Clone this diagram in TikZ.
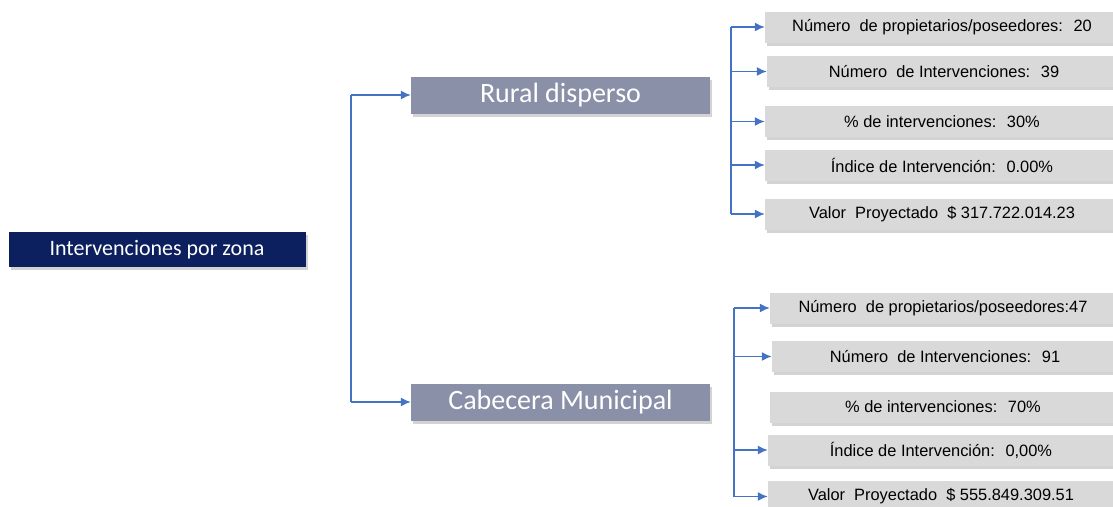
\documentclass[tikz,border=0pt]{standalone}
\usepackage{fontspec}
\setmainfont{Liberation Sans}
\newfontfamily\carlito{Carlito}
\usepackage{xcolor}
\usepackage{tikz}
\usetikzlibrary{shadows,arrows.meta}
\definecolor{navy}{HTML}{0C1F5E}
\definecolor{slate}{HTML}{8990A8}
\definecolor{leafgray}{HTML}{D9D9D9}
\definecolor{linkblue}{HTML}{4472C4}
\tikzset{
  boxShadow/.style={drop shadow={shadow xshift=2pt, shadow yshift=-3pt, opacity=0.35}},
  rootbox/.style={fill=navy, text=white, font=\carlito\fontsize{22}{24}\selectfont, minimum width=297pt, minimum height=35pt, boxShadow},
  zonebox/.style={fill=slate, text=white, font=\carlito\fontsize{28}{30}\selectfont, minimum width=299pt, minimum height=37pt, boxShadow},
  leafbox/.style={fill=leafgray, font=\fontsize{16.4}{18}\selectfont, minimum height=31pt, boxShadow},
  link/.style={draw=linkblue, line width=1.5pt},
  linkArrow/.style={link, -{Latex[length=10pt,width=9pt]}}
}

\begin{document}
\begin{tikzpicture}[x=1pt, y=-1pt]
\useasboundingbox (0,0) rectangle (1113,506);
\clip (0,0) rectangle (1113,506);

% root and zones
\node[rootbox] (root) at (157,249.5) {Intervenciones por zona};
\node[zonebox] (rd) at (560.5,95) {Rural disperso};
\node[zonebox] (cm) at (560.5,402) {Cabecera Municipal};
\coordinate (jZone) at (351,0);
\draw[link] (rd.west -| jZone) -- (cm.west -| jZone);
\draw[linkArrow] (rd.west -| jZone) -- (rd.west);
\draw[linkArrow] (cm.west -| jZone) -- (cm.west);

% rural disperso
\node[leafbox, minimum width=354pt] (rd1) at (942,27) {Número~ de propietarios/poseedores:~ 20};
\node[leafbox, minimum width=354pt] (rd2) at (944,71.5) {Número~ de Intervenciones:~ 39};
\node[leafbox, minimum width=354pt] (rd3) at (942,121.5) {\% de intervenciones:~ 30\%};
\node[leafbox, minimum width=354pt] (rd4) at (942,165) {Índice de Intervención:~ 0.00\%};
\node[leafbox, minimum width=354pt] (rd5) at (942,214) {Valor~ Proyectado~ \$ 317.722.014.23};
\coordinate (jRd) at (731,0);
\draw[link] (rd1.west -| jRd) -- (rd5.west -| jRd);
\draw[linkArrow] (rd1.west -| jRd) -- (rd1.west);
\draw[linkArrow] (rd2.west -| jRd) -- (rd2.west);
\draw[linkArrow] (rd3.west -| jRd) -- (rd3.west);
\draw[linkArrow] (rd4.west -| jRd) -- (rd4.west);
\draw[linkArrow] (rd5.west -| jRd) -- (rd5.west);

% cabecera municipal
\node[leafbox, minimum width=346pt] (cm1) at (943,308) {Número~ de propietarios/poseedores:47};
\node[leafbox, minimum width=346pt] (cm2) at (945,356.5) {Número~ de Intervenciones:~ 91};
\node[leafbox, minimum width=346pt] (cm3) at (943,407) {\% de intervenciones:~ 70\%};
\node[leafbox, minimum width=346pt] (cm4) at (941,450) {Índice de Intervención:~ 0,00\%};
\node[leafbox, minimum width=346pt] (cm5) at (941,496.5) {Valor~ Proyectado~ \$ 555.849.309.51};
\coordinate (jCm) at (734,0);
\draw[link] (cm1.west -| jCm) -- (cm5.west -| jCm);
\draw[linkArrow] (cm1.west -| jCm) -- (cm1.west);
\draw[linkArrow] (cm2.west -| jCm) -- (cm2.west);
\draw[linkArrow] (cm4.west -| jCm) -- (cm4.west);
\draw[linkArrow] (cm5.west -| jCm) -- (cm5.west);
\end{tikzpicture}
\end{document}
